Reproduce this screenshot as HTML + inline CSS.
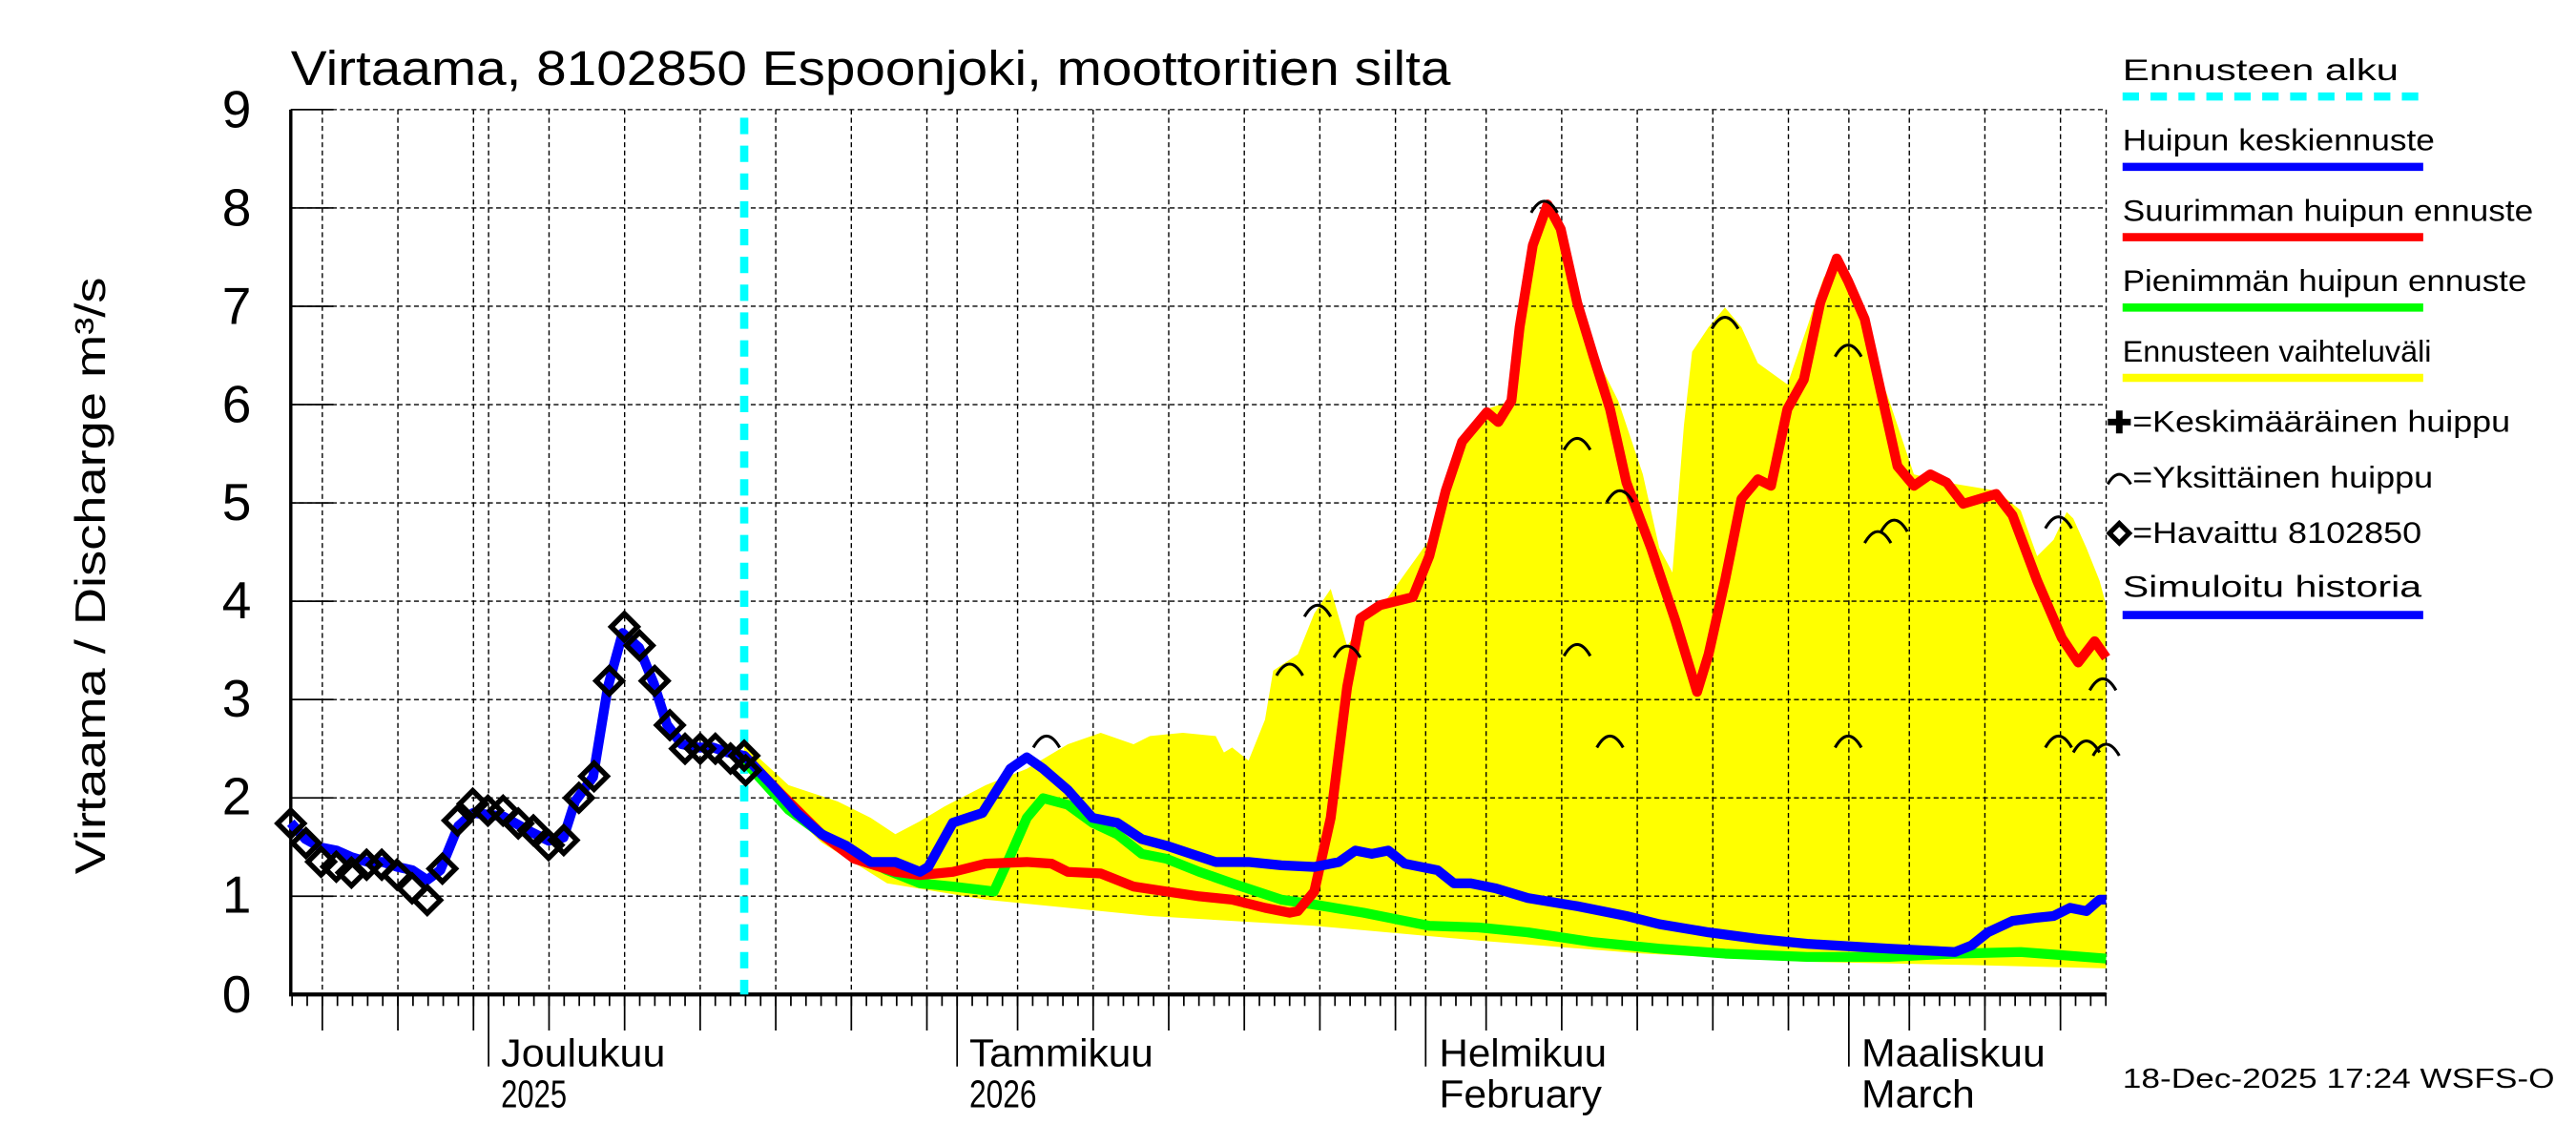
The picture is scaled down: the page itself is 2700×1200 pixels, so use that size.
<!DOCTYPE html>
<html><head><meta charset="utf-8"><style>html,body{margin:0;padding:0;background:#fff}svg{display:block}</style></head><body>
<svg xmlns="http://www.w3.org/2000/svg" width="2700" height="1200" viewBox="0 0 1568 700" preserveAspectRatio="none" font-family="Liberation Sans, sans-serif">
<rect width="1568" height="700" fill="#fff"/>
<polygon fill="#ffff00" points="453,455 480,480 510,490 530,500 545,510 560,502 575,493 600,480 625,470 650,455 670,448 690,455 700,450 720,448 740,450 745,460 750,457 760,465 770,440 775,410 790,400 800,375 810,360 820,395 830,380 840,372 870,330 880,295 890,270 905,250 920,245 925,200 933,150 942,125 950,140 970,215 985,245 1000,290 1010,335 1018,350 1025,260 1030,215 1040,200 1050,188 1060,200 1070,222 1088,235 1100,200 1110,170 1118,158 1130,190 1150,245 1165,290 1185,295 1215,300 1230,312 1240,340 1250,330 1258,313 1262,317 1270,335 1278,355 1282,370 1282,592 1200,590 1100,588 1000,583 900,575 800,566 700,560 600,550 540,540 500,515 453,470"/>
<g stroke="#000" stroke-width="0.8" stroke-dasharray="3,2" fill="none" id="grid"></g>
<g id="ticks" stroke="#000" stroke-width="1"></g>
<g font-size="32" text-anchor="end">
<text x="153" y="78">9</text><text x="153" y="138">8</text><text x="153" y="198">7</text><text x="153" y="258">6</text><text x="153" y="318">5</text><text x="153" y="378">4</text><text x="153" y="438">3</text><text x="153" y="498">2</text><text x="153" y="558">1</text><text x="153" y="619">0</text>
</g>
<text transform="translate(64,352) rotate(-90)" font-size="26" text-anchor="middle" textLength="365" lengthAdjust="spacingAndGlyphs">Virtaama / Discharge    m³/s</text>
<text x="177" y="52" font-size="30" textLength="706" lengthAdjust="spacingAndGlyphs">Virtaama, 8102850 Espoonjoki, moottoritien silta</text>
<g font-size="24">
<text x="305" y="652" textLength="100" lengthAdjust="spacingAndGlyphs">Joulukuu</text><text x="305" y="677" textLength="40" lengthAdjust="spacingAndGlyphs">2025</text>
<text x="590" y="652" textLength="112" lengthAdjust="spacingAndGlyphs">Tammikuu</text><text x="590" y="677" textLength="41" lengthAdjust="spacingAndGlyphs">2026</text>
<text x="876" y="652" textLength="102" lengthAdjust="spacingAndGlyphs">Helmikuu</text><text x="876" y="677" textLength="99" lengthAdjust="spacingAndGlyphs">February</text>
<text x="1133" y="652" textLength="112" lengthAdjust="spacingAndGlyphs">Maaliskuu</text><text x="1133" y="677" textLength="69" lengthAdjust="spacingAndGlyphs">March</text>
</g>
<line x1="453" y1="72" x2="453" y2="608" stroke="#00ffff" stroke-width="5" stroke-dasharray="10,7"/>
<g fill="none" stroke-width="6" stroke-linejoin="round">
<polyline stroke="#00ff00" points="453,465 480,495 510,517 540,532 560,540 580,542 605,545 615,523 625,500 635,488 650,492 665,503 680,510 695,522 710,525 730,533 750,540 780,550 800,553 830,558 850,562 870,566 900,567 930,570 970,576 1010,580 1050,583 1100,585 1150,585 1190,583 1230,582 1282,586"/>
<polyline stroke="#ff0000" points="453,462 475,485 500,510 520,525 545,533 560,535 580,533 600,528 625,527 640,528 650,533 670,534 690,542 710,545 730,548 750,550 770,555 785,558 790,557 800,545 810,500 820,420 828,378 840,370 860,365 870,340 880,300 890,270 905,252 912,258 920,245 925,200 933,150 942,125 950,140 960,185 970,218 980,250 990,295 1005,335 1020,380 1033,423 1040,400 1050,355 1060,305 1070,293 1078,297 1088,250 1098,232 1108,185 1118,158 1125,172 1135,195 1145,240 1155,285 1165,297 1175,290 1185,295 1195,308 1215,302 1225,315 1240,355 1255,390 1265,405 1275,392 1282,402"/>
<polyline stroke="#0000ff" points="177,503 186,513 195,518 205,520 214,524 224,527 233,527 242,530 251,532 260,538 268,532 279,505 288,497 297,498 306,499 315,504 324,509 334,514 343,512 350,490 361,475 370,420 379,387 389,396 398,418 406,443 415,455 425,457 434,457 443,460 453,462 470,480 485,497 500,510 515,517 530,527 545,527 560,533 565,530 580,503 598,497 615,470 625,463 635,470 650,483 665,500 680,503 695,513 710,517 725,522 740,527 760,527 780,529 800,530 815,527 825,520 835,522 845,520 855,528 875,532 885,540 895,540 910,543 930,549 960,554 990,560 1010,565 1040,570 1070,574 1100,577 1150,580 1190,582 1200,578 1210,570 1225,563 1240,561 1250,560 1260,555 1270,557 1278,550 1282,550"/>
</g>
<g fill="none" stroke="#000" stroke-width="3.2" id="obs"></g>
<g fill="none" stroke="#000" stroke-width="1.8" id="arcs"></g>
<g font-size="18.5">
<text x="1292" y="49" textLength="168" lengthAdjust="spacingAndGlyphs">Ennusteen alku</text>
<line x1="1292" y1="59" x2="1475" y2="59" stroke="#00ffff" stroke-width="5" stroke-dasharray="10,7"/>
<text x="1292" y="92" textLength="190" lengthAdjust="spacingAndGlyphs">Huipun keskiennuste</text>
<line x1="1292" y1="102" x2="1475" y2="102" stroke="#0000ff" stroke-width="5"/>
<text x="1292" y="135" textLength="250" lengthAdjust="spacingAndGlyphs">Suurimman huipun ennuste</text>
<line x1="1292" y1="145" x2="1475" y2="145" stroke="#ff0000" stroke-width="5"/>
<text x="1292" y="178" textLength="246" lengthAdjust="spacingAndGlyphs">Pienimmän huipun ennuste</text>
<line x1="1292" y1="188" x2="1475" y2="188" stroke="#00ff00" stroke-width="5"/>
<text x="1292" y="221" textLength="188" lengthAdjust="spacingAndGlyphs">Ennusteen vaihteluväli</text>
<line x1="1292" y1="231" x2="1475" y2="231" stroke="#ffff00" stroke-width="5"/>
<text x="1298" y="264" textLength="230" lengthAdjust="spacingAndGlyphs">=Keskimääräinen huippu</text>
<path d="M1283,258 h14 M1290,251 v14" stroke="#000" stroke-width="4"/>
<text x="1298" y="298" textLength="183" lengthAdjust="spacingAndGlyphs">=Yksittäinen huippu</text>
<path d="M1283,296 Q1290,284 1297,296" stroke="#000" stroke-width="1.8" fill="none"/>
<text x="1298" y="332" textLength="176" lengthAdjust="spacingAndGlyphs">=Havaittu 8102850</text>
<path d="M1284,326 l6,-6 l6,6 l-6,6 z" stroke="#000" stroke-width="3" fill="none"/>
<text x="1292" y="365" textLength="182" lengthAdjust="spacingAndGlyphs">Simuloitu historia</text>
<line x1="1292" y1="376" x2="1475" y2="376" stroke="#0000ff" stroke-width="5"/>
<text x="1292" y="665" font-size="17" textLength="263" lengthAdjust="spacingAndGlyphs">18-Dec-2025 17:24 WSFS-O</text>
</g>
<script>
var ns="http://www.w3.org/2000/svg";
function el(p,t,a){var e=document.createElementNS(ns,t);for(var k in a)e.setAttribute(k,a[k]);document.getElementById(p).appendChild(e);}
for(var i=1;i<=9;i++){var y=608-i*60.11;el("grid","line",{x1:177,y1:y,x2:1282,y2:y});el("ticks","line",{x1:177,y1:y,x2:203,y2:y});}
el("grid","line",{x1:1282,y1:67,x2:1282,y2:608});
function X(d){return 297.4+d*9.2;}
for(var d=-13;d<=107;d++){var x=X(d);if(x<177||x>1282)continue;el("ticks","line",{x1:x,y1:608,x2:x,y2:615});}
var starts=[[-30,30],[0,31],[31,31],[62,28],[90,31]];
starts.forEach(function(m){
 var x0=X(m[0]); if(x0>=177){el("ticks","line",{x1:x0,y1:608,x2:x0,y2:652});el("grid","line",{x1:x0,y1:67,x2:x0,y2:608});}
 for(var k=5;k<=30;k+=5){if(k>m[1])break;var x=X(m[0]+k-1);if(x<177||x>1282)continue;el("ticks","line",{x1:x,y1:608,x2:x,y2:630});el("grid","line",{x1:x,y1:67,x2:x,y2:608});}
});
el("ticks","line",{x1:177,y1:67,x2:177,y2:609,"stroke-width":2});
el("ticks","line",{x1:176,y1:608,x2:1282,y2:608,"stroke-width":2.5});
var obs=[1.74,1.54,1.35,1.30,1.24,1.32,1.32,1.22,1.08,0.96,1.28,1.77,1.94,1.87,1.87,1.74,1.67,1.52,1.57,2.0,2.22,3.19,3.74,3.55,3.19,2.74,2.50,2.50,2.50,2.40,2.28];
obs.forEach(function(v,i){var x=177+i*9.23,y=608-v*60.11;el("obs","path",{d:"M"+(x-8)+","+y+" l8,-8 l8,8 l-8,8 z"});});
el("obs","path",{d:"M445,462 l8,-8 l8,8 l-8,8 z"});
[[637,452],[785,408],[802,372],[820,397],[940,125],[960,270],[986,302],[960,396],[980,452],[1050,196],[1125,213],[1125,452],[1143,327],[1153,320],[1253,318],[1253,452],[1280,417],[1270,455],[1282,457]].forEach(function(p){el("arcs","path",{d:"M"+(p[0]-8)+","+(p[1]+5)+" Q"+p[0]+","+(p[1]-9)+" "+(p[0]+8)+","+(p[1]+5)});});
</script>
</svg>
</body></html>
